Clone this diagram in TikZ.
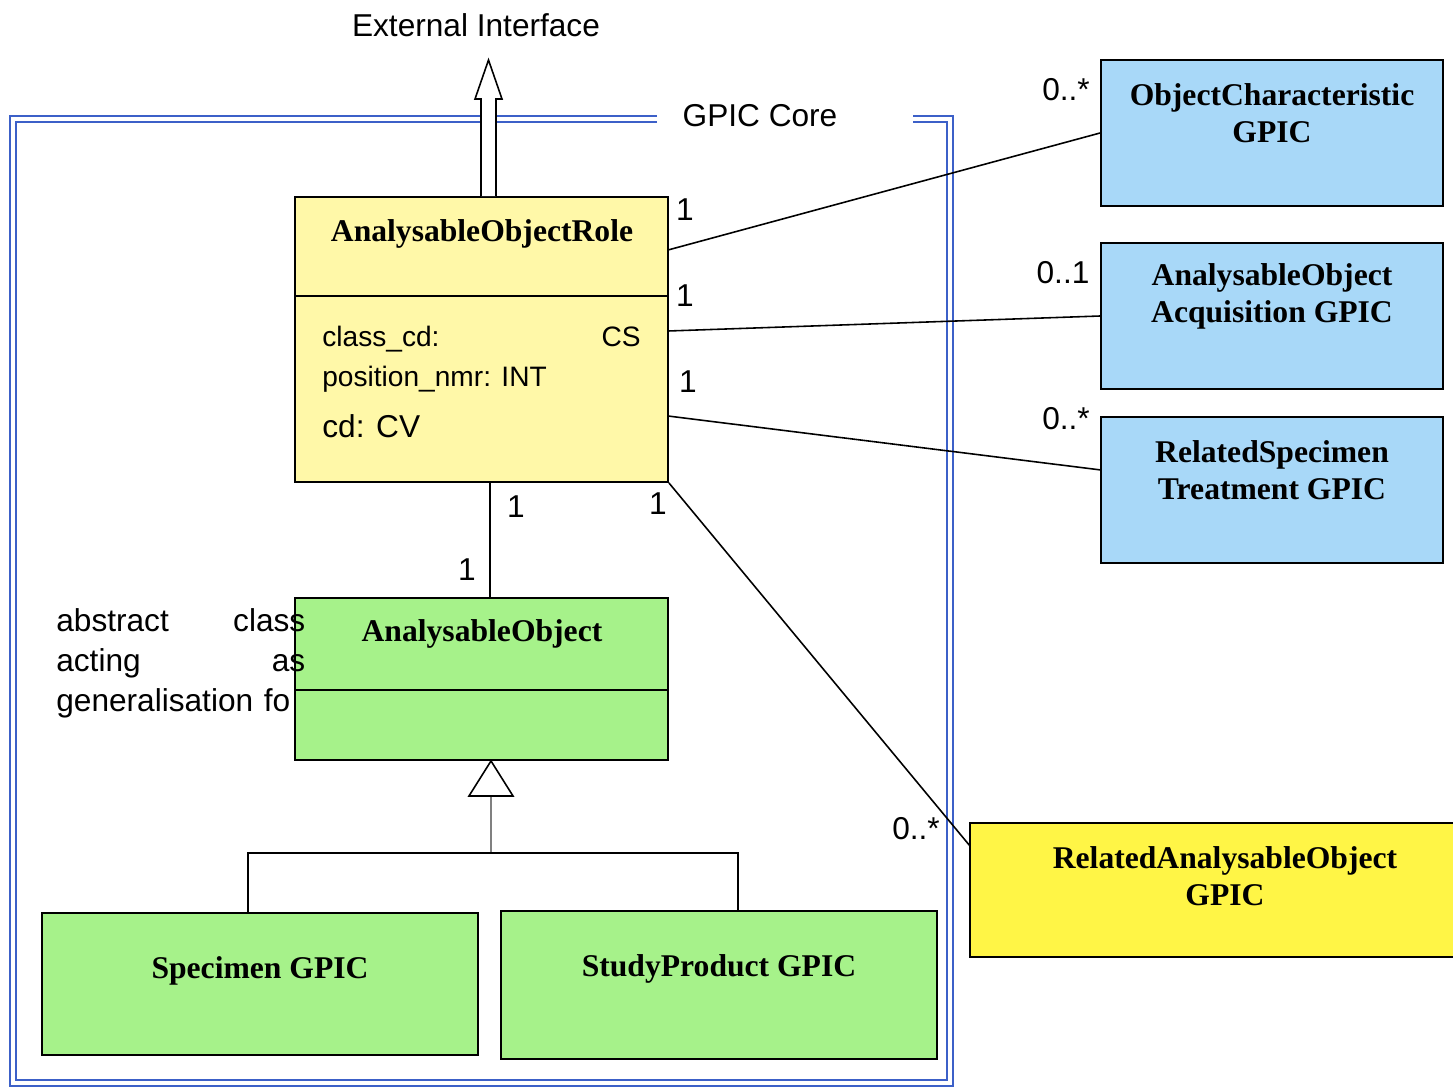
\documentclass[tikz,border=0pt]{standalone}
\usepackage{fontspec}
\setmainfont{Liberation Serif}
\newfontfamily\arialfont{Liberation Sans}
\usetikzlibrary{calc}
\definecolor{roleyellow}{RGB}{255,248,168}
\definecolor{objgreen}{RGB}{166,242,138}
\definecolor{gpicblue}{RGB}{168,216,248}
\definecolor{relyellow}{RGB}{255,245,70}
\definecolor{coreblue}{RGB}{60,96,200}
\begin{document}
\begin{tikzpicture}[x=0.02cm,y=-0.02cm,
    classbox/.style={draw,line width=1.1pt,inner sep=0pt},
    classname/.style={font=\fontsize{18}{21}\selectfont\bfseries,align=center,inner sep=0pt},
    attr/.style={font=\arialfont\fontsize{16}{19}\selectfont,inner sep=0pt},
    mult/.style={font=\arialfont\fontsize{18}{21}\selectfont,inner sep=0pt},
    assoc/.style={line width=0.9pt}]
    \useasboundingbox (0,0) rectangle (1453,1088);
    % GPIC core frame
    \draw[coreblue,line width=1.2pt] (657,116) -- (10,116) -- (10,1086) -- (953,1086) -- (953,116) -- (913,116);
    \draw[coreblue,line width=1.2pt] (657,122) -- (16,122) -- (16,1080) -- (947,1080) -- (947,122) -- (913,122);
    \node[mult] (core) at (760,116) {GPIC Core};
    \node[mult] (ext) at (476,25) {External Interface};
    % classes inside the core
    \node[classbox,fill=roleyellow,minimum width=7.46cm,minimum height=5.7cm] (aor) at (481.5,339.5) {};
    \draw[line width=1.1pt] (aor.west |- 0,296) -- (aor.east |- 0,296);
    \node[classname] (aortitle) at (482,234) {AnalysableObjectRole};
    \node[attr,anchor=base west] (aorclass) at (322,346) {class\_cd:};
    \node[attr,anchor=base east] (aorcs) at (641,346) {CS};
    \node[attr,anchor=base west] (aorpos) at (322,386) {position\_nmr: INT};
    \node[mult,anchor=base west] (aorcd) at (322,437) {cd: CV};
    \node[classbox,fill=objgreen,minimum width=7.46cm,minimum height=3.24cm] (ao) at (481.5,679) {};
    \draw[line width=1.1pt] (ao.west |- 0,690) -- (ao.east |- 0,690);
    \node[classname] (aotitle) at (482,634) {AnalysableObject};
    \node[mult,text width=4.98cm,align=left,anchor=north west,font=\arialfont\fontsize{18}{22.7}\selectfont] (note) at (56,608)
        {abstract\hfill class\\acting\hfill as\\generalisation fo};
    \node[classbox,fill=objgreen,minimum width=8.72cm,minimum height=2.84cm] (spec) at (260,984) {};
    \node[classname] (spectitle) at (260,971) {Specimen GPIC};
    \node[classbox,fill=objgreen,minimum width=8.72cm,minimum height=2.96cm] (sp) at (719,985) {};
    \node[classname] (sptitle) at (719,969) {StudyProduct GPIC};
    % classes outside the core
    \node[classbox,fill=gpicblue,minimum width=6.84cm,minimum height=2.92cm] (ocg) at (1272,133) {};
    \node[classname] (ocgtitle) at (1272,113) {ObjectCharacteristic\\GPIC};
    \node[classbox,fill=gpicblue,minimum width=6.84cm,minimum height=2.92cm] (aoa) at (1272,316) {};
    \node[classname] (aoatitle) at (1272,296) {AnalysableObject\\Acquisition GPIC};
    \node[classbox,fill=gpicblue,minimum width=6.84cm,minimum height=2.92cm] (rst) at (1272,490) {};
    \node[classname] (rsttitle) at (1272,470) {RelatedSpecimen\\Treatment GPIC};
    \node[classbox,fill=relyellow,minimum width=9.76cm,minimum height=2.68cm] (rao) at (1214,890) {};
    \node[classname] (raotitle) at (1225,876) {RelatedAnalysableObject\\GPIC};
    % external interface arrow
    \coordinate (extfoot) at (488.5,196);
    \draw[line width=0.9pt,fill=white] (extfoot) ++(-7.5,0) -- ++(0,-97) -- ++(-6,0) -- ++(13.5,-39)
        -- ++(13.5,39) -- ++(-6,0) -- ++(0,97);
    % associations
    \coordinate (aorp1) at (668,250);
    \coordinate (aorp2) at (668,331);
    \coordinate (aorp3) at (668,416);
    \coordinate (rstp) at (1101,470);
    \coordinate (raop) at (970,846);
    \coordinate (aoraxis) at (490,0);
    \draw[assoc] (aorp1) -- (ocg.west);
    \draw[assoc] (aorp2) -- (aoa.west);
    \draw[assoc] (aorp3) -- (rstp);
    \draw[assoc] (aor.south east) -- (raop);
    \draw[assoc] (aoraxis |- aor.south) -- (aoraxis |- ao.north);
    \node[mult] (m1) at (685,210) {1};
    \node[mult] (m2) at (685,296) {1};
    \node[mult] (m3) at (688,382) {1};
    \node[mult] (m4) at (516,507) {1};
    \node[mult] (m5) at (658,504) {1};
    \node[mult] (m6) at (467,570) {1};
    \node[mult] (n1) at (1066,90) {0..*};
    \node[mult] (n2) at (1063,273) {0..1};
    \node[mult] (n3) at (1066,419) {0..*};
    \node[mult] (n4) at (916,829) {0..*};
    % generalisation
    \coordinate (genjoin) at (491,853);
    \coordinate (specjoin) at (248,853);
    \coordinate (spjoin) at (738,853);
    \draw[gray,line width=1.2pt] (genjoin) -- ++(0,-57);
    \draw[line width=0.9pt,fill=white] (genjoin |- ao.south) -- ++(-22,35) -- ++(44,0) -- cycle;
    \draw[assoc] (specjoin |- spec.north) -- (specjoin) -- (spjoin) -- (spjoin |- sp.north);
\end{tikzpicture}
\end{document}
